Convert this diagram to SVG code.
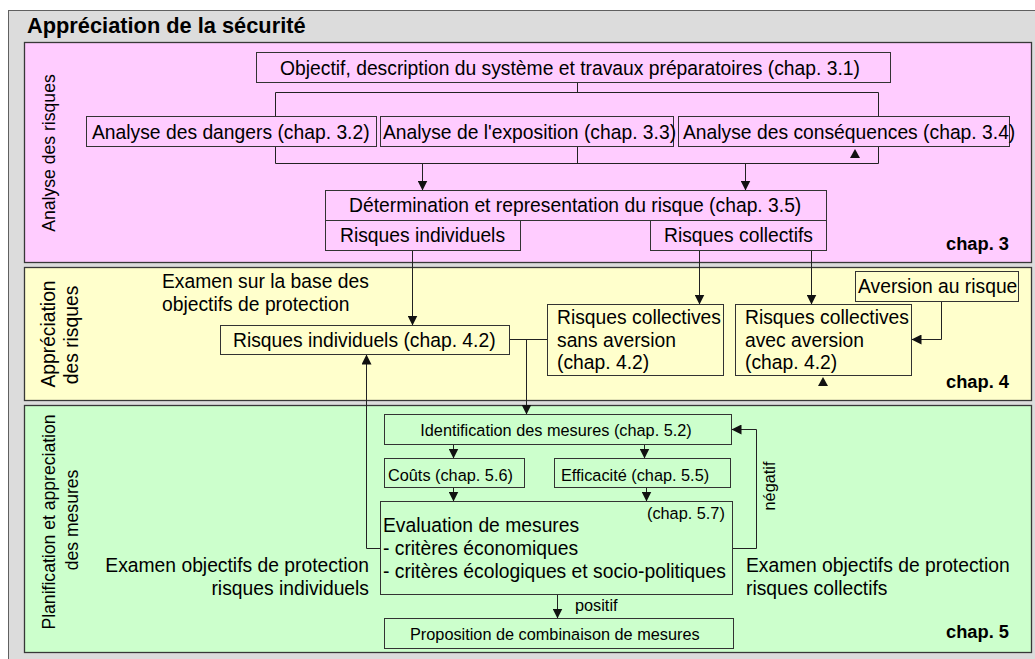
<svg xmlns="http://www.w3.org/2000/svg" width="1035" height="659" viewBox="0 0 1035 659">
<style>
text{font-family:"Liberation Sans",Arial,sans-serif;fill:#000}
.b{font-size:19.3px}
.s{font-size:16.3px}
.lbl{font-size:17.6px}
.hd{font-size:18.3px;font-weight:bold}
.box{stroke:#333;stroke-width:1;fill:none}
.pan{stroke:#383838;stroke-width:1.3}
.c{stroke:#222;stroke-width:1;fill:none}
.tri{fill:#111}
</style>
<defs>
<marker id="ah" markerUnits="userSpaceOnUse" markerWidth="10" markerHeight="10" refX="10" refY="5" orient="auto">
<path d="M0,0 L10,5 L0,10 z" fill="#111"/>
</marker>
</defs>
<rect x="8.5" y="10.5" width="1040" height="660" fill="#dcdcdc" stroke="#606060"/>
<text x="27" y="33" style="font-size:21.8px;font-weight:bold">Appréciation de la sécurité</text>

<g id="panel-analyse">
<rect class="pan" x="24.5" y="42.5" width="1007" height="220" fill="#ffccff"/>
<text class="lbl" transform="translate(55,153) rotate(-90)" text-anchor="middle">Analyse des risques</text>
<text class="hd" x="1009" y="250" text-anchor="end">chap. 3</text>
</g>
<g id="panel-appreciation">
<rect class="pan" x="24.5" y="267.5" width="1007" height="133" fill="#ffffcc"/>
<text class="b" transform="translate(55,334) rotate(-90)" text-anchor="middle">Appréciation</text>
<text class="b" transform="translate(78,335) rotate(-90)" text-anchor="middle">des risques</text>
<text class="hd" x="1009" y="388" text-anchor="end">chap. 4</text>
<text class="b" x="162" y="288">Examen sur la base des</text>
<text class="b" x="162" y="311">objectifs de protection</text>
</g>
<g id="panel-mesures">
<rect class="pan" x="24.5" y="405.5" width="1007" height="247" fill="#ccffcc"/>
<text class="lbl" transform="translate(55,522) rotate(-90)" text-anchor="middle">Planification et appreciation</text>
<text class="lbl" transform="translate(78,520) rotate(-90)" text-anchor="middle">des mesures</text>
<text class="hd" x="1009" y="638" text-anchor="end">chap. 5</text>
<text class="b" x="369" y="572" text-anchor="end">Examen objectifs de protection</text>
<text class="b" x="369" y="595" text-anchor="end">risques individuels</text>
<text class="b" x="746" y="572">Examen objectifs de protection</text>
<text class="b" x="746" y="595">risques collectifs</text>
</g>

<g id="connectors">
<path class="c" d="M577.5,82.5 V92.5 M275.5,116.5 V92.5 H878.5 V116.5"/>
<path class="c" d="M275.5,146.5 V163.5 H878.5 V146.5 M577.5,146.5 V163.5"/>
<path class="c" d="M422.5,163.5 V190.5" marker-end="url(#ah)"/>
<path class="c" d="M745.5,163.5 V190.5" marker-end="url(#ah)"/>
<polygon class="tri" points="855,149 850,158 860,158"/>
<path class="c" d="M412.5,250.5 V325.5" marker-end="url(#ah)"/>
<path class="c" d="M699.5,250.5 V304.5" marker-end="url(#ah)"/>
<path class="c" d="M811.5,250.5 V304.5" marker-end="url(#ah)"/>
<path class="c" d="M509.5,339.5 H547.5"/>
<path class="c" d="M526.5,339.5 V414.5" marker-end="url(#ah)"/>
<path class="c" d="M941.5,301.5 V339.5 H911.5" marker-end="url(#ah)"/>
<polygon class="tri" points="823,377 818,386 828,386"/>
<path class="c" d="M380.5,548.5 H366.5 V354.5" marker-end="url(#ah)"/>
<path class="c" d="M453.5,444.5 V458.5" marker-end="url(#ah)"/>
<path class="c" d="M644.5,444.5 V458.5" marker-end="url(#ah)"/>
<path class="c" d="M453.5,487.5 V501.5" marker-end="url(#ah)"/>
<path class="c" d="M646.5,487.5 V501.5" marker-end="url(#ah)"/>
<path class="c" d="M732.5,548.5 H756.5 V429.5 H731.5" marker-end="url(#ah)"/>
<text class="s" transform="translate(775,486) rotate(-90)" text-anchor="middle">négatif</text>
<path class="c" d="M557.5,594.5 V618.5" marker-end="url(#ah)"/>
<text class="s" x="575" y="611">positif</text>
</g>

<g id="n-objectif"><rect class="box" x="256.5" y="52.5" width="634" height="30"/><text class="b" x="570" y="75" text-anchor="middle">Objectif, description du système et travaux préparatoires (chap. 3.1)</text></g>
<g id="n-dangers"><rect class="box" x="86.5" y="116.5" width="290" height="30"/><text class="b" x="92" y="139">Analyse des dangers (chap. 3.2)</text></g>
<g id="n-exposition"><rect class="box" x="380.5" y="116.5" width="293" height="30"/><text class="b" x="383" y="139">Analyse de l'exposition (chap. 3.3)</text></g>
<g id="n-consequences"><rect class="box" x="678.5" y="116.5" width="331" height="30"/><text class="b" x="683" y="139">Analyse des conséquences (chap. 3.4)</text></g>
<g id="n-determination"><rect class="box" x="325.5" y="190.5" width="501" height="30"/><text class="b" x="349" y="212">Détermination et representation du risque (chap. 3.5)</text></g>
<g id="n-ri"><rect class="box" x="325.5" y="220.5" width="195" height="30"/><text class="b" x="340" y="242">Risques individuels</text></g>
<g id="n-rc"><rect class="box" x="650.5" y="220.5" width="176" height="30"/><text class="b" x="664" y="242">Risques collectifs</text></g>

<g id="n-ri42"><rect class="box" x="220.5" y="325.5" width="289" height="29"/><text class="b" x="233" y="347">Risques individuels (chap. 4.2)</text></g>
<g id="n-sans"><rect class="box" x="547.5" y="304.5" width="176" height="71"/><text class="b" x="557" y="324">Risques collectives</text><text class="b" x="557" y="347">sans aversion</text><text class="b" x="557" y="369">(chap. 4.2)</text></g>
<g id="n-avec"><rect class="box" x="735.5" y="304.5" width="176" height="71"/><text class="b" x="745" y="324">Risques collectives</text><text class="b" x="745" y="347">avec aversion</text><text class="b" x="745" y="369">(chap. 4.2)</text></g>
<g id="n-aversion"><rect class="box" x="855.5" y="271.5" width="163" height="30"/><text class="b" x="858" y="293">Aversion au risque</text></g>

<g id="n-identification"><rect class="box" x="384.5" y="414.5" width="347" height="30"/><text class="s" x="556" y="436" text-anchor="middle">Identification des mesures (chap. 5.2)</text></g>
<g id="n-couts"><rect class="box" x="384.5" y="458.5" width="140" height="29"/><text class="s" x="388" y="481">Coûts (chap. 5.6)</text></g>
<g id="n-efficacite"><rect class="box" x="554.5" y="458.5" width="176" height="29"/><text class="s" x="561" y="481">Efficacité (chap. 5.5)</text></g>
<g id="n-evaluation"><rect class="box" x="380.5" y="501.5" width="352" height="93"/><text class="s" x="647" y="519">(chap. 5.7)</text><text class="b" x="383" y="532">Evaluation de mesures</text><text class="b" x="383" y="555">- critères économiques</text><text class="b" x="383" y="578">- critères écologiques et socio-politiques</text></g>
<g id="n-proposition"><rect class="box" x="384.5" y="618.5" width="349" height="30"/><text class="s" x="410" y="640">Proposition de combinaison de mesures</text></g>
</svg>
